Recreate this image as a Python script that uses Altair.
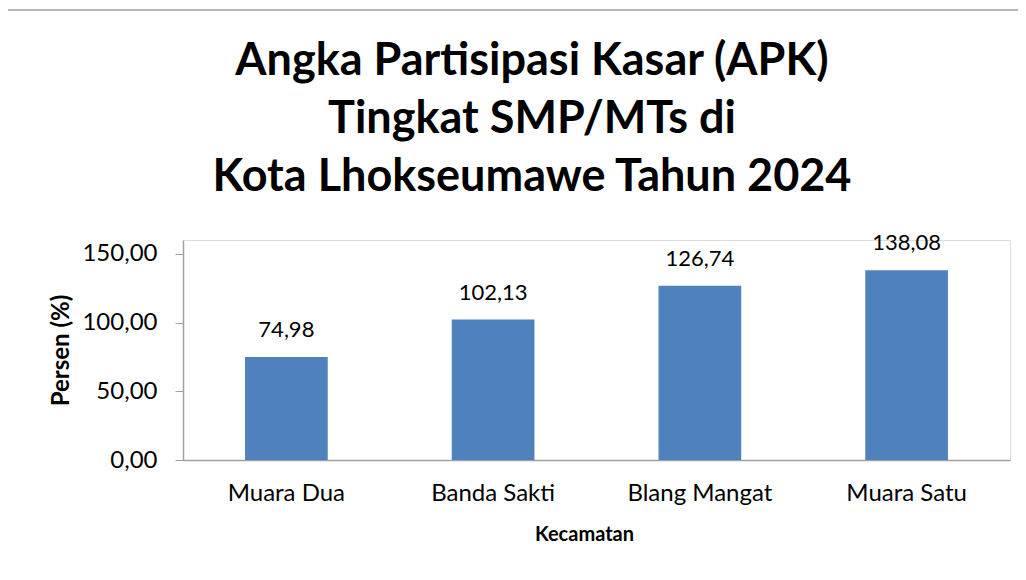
import altair as alt
import pandas as pd

kecamatan = ["Muara Dua", "Banda Sakti", "Blang Mangat", "Muara Satu"]
apk = [74.98, 102.13, 126.74, 138.08]
y_ticks = [0, 50, 100, 150]
title_lines = [
    "Angka Partisipasi Kasar (APK)",
    "Tingkat SMP/MTs di",
    "Kota Lhokseumawe Tahun 2024",
]

df = pd.DataFrame({"Kecamatan": kecamatan, "APK": apk})
one = pd.DataFrame({"k": [0]})

FONT = "Lato"
GRAY = "#A0A0A0"

base = alt.Chart(df).transform_calculate(
    label="replace(format(datum.APK, '.2f'), '.', ',')"
)

x_enc = alt.X(
    "Kecamatan:N",
    sort=kecamatan,
    scale=alt.Scale(paddingInner=0.6, paddingOuter=0.3),
    axis=alt.Axis(
        title="Kecamatan",
        labelAngle=0,
        ticks=False,
        labelPadding=21,
        labelFontSize=24,
        labelFont=FONT,
        labelColor="#000000",
        titleFontSize=20,
        titleFont=FONT,
        titleFontWeight="bold",
        titleColor="#000000",
        titlePadding=19,
        titleX=401,
        domainColor=GRAY,
        domainWidth=1.5,
    ),
)

y_enc = alt.Y(
    "APK:Q",
    scale=alt.Scale(domain=[0, 150]),
    axis=alt.Axis(
        title="Persen (%)",
        values=y_ticks,
        labelExpr="replace(format(datum.value, '.2f'), '.', ',')",
        grid=False,
        tickSize=8,
        tickColor=GRAY,
        domainColor=GRAY,
        domainWidth=1.5,
        labelPadding=18,
        labelFontSize=24,
        labelFont=FONT,
        labelColor="#000000",
        titleFontSize=24,
        titleFont=FONT,
        titleFontWeight="bold",
        titleColor="#000000",
        titlePadding=8,
    ),
)

bars = base.mark_bar(color="#4F81BD").encode(x=x_enc, y=y_enc)

labels = base.mark_text(
    baseline="alphabetic", dy=-20, fontSize=22, font=FONT, color="#000000"
).encode(x=alt.X("Kecamatan:N", sort=kecamatan), y="APK:Q", text="label:N")

title = alt.Chart(one).mark_text(
    font=FONT,
    fontSize=45,
    fontWeight="bold",
    color="#000000",
    align="center",
    baseline="alphabetic",
    lineHeight=58,
    lineBreak="\n",
).encode(
    x=alt.value(349),
    y=alt.value(-165),
    text=alt.value("\n".join(title_lines)),
)

border = alt.Chart(one).mark_rect(
    fill=None, stroke=GRAY, strokeWidth=1.5
).encode(
    x=alt.value(-178), x2=alt.value(847), y=alt.value(-230), y2=alt.value(350)
)

chart = (
    alt.layer(border, title, bars, labels)
    .properties(
        width=827,
        height=220,
        autosize=alt.AutoSizeParams(type="none"),
        padding={"left": 175, "top": 232, "right": 8, "bottom": 112},
    )
    .configure_view(stroke=None)
    .configure(background="white")
)

chart.save("out.html", embed_options={"renderer": "svg", "actions": False})
